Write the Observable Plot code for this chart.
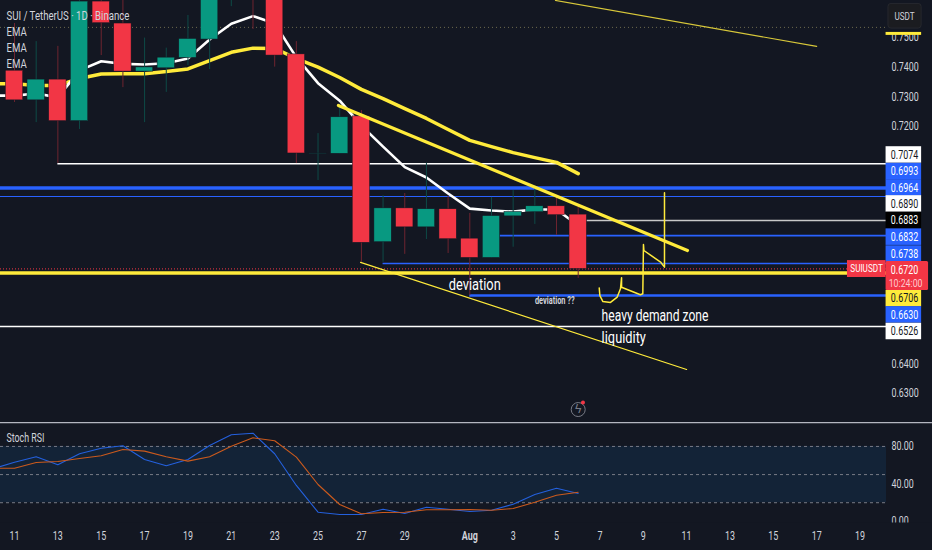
<!DOCTYPE html>
<html>
<head>
<meta charset="utf-8">
<script src="https://cdn.jsdelivr.net/npm/d3@7"></script>
<script src="https://cdn.jsdelivr.net/npm/@observablehq/plot@0.6"></script>
<style>
html,body{margin:0;padding:0;background:#131722;overflow:hidden}
#chart svg{display:block}
</style>
</head>
<body>
<div id="chart"></div>
<script>
const FONT = '"Roboto","Liberation Sans",sans-serif';
const GREEN = "#089981", RED = "#f23645", BLUE = "#2962ff", YELLOW = "#ffeb3b", WHITE = "#ffffff", TXT = "#d1d4dc", BG = "#131722";

// Candles: day 0 = 11 Jul
const opens  = [.7388,.7288,.7358,.7218,.7621,.7547,.7385,.7396,.7431,.7493,.7660,.7800,.7720,.7443,.7108,.7108,.7234,.6810,.6924,.6860,.6921,.6822,.6757,.6897,.6911,.6931,.6903];
const highs  = [.7547,.7486,.7470,.7640,.7670,.7640,.7498,.7464,.7574,.7750,.7800,.7850,.7750,.7486,.7176,.7271,.7254,.6967,.6974,.7076,.6964,.6907,.6961,.6984,.7001,.6961,.6927];
const lows   = [.7281,.7213,.7075,.7190,.7439,.7331,.7213,.7315,.7405,.7392,.7604,.7527,.7400,.7075,.7018,.7108,.6742,.6742,.6769,.6819,.6772,.6630,.6757,.6793,.6870,.6833,.6688];
const closes = [.7288,.7358,.7218,.7621,.7548,.7385,.7399,.7432,.7495,.7700,.7750,.7680,.7439,.7109,.7109,.7231,.6808,.6924,.6860,.6921,.6820,.6757,.6898,.6912,.6931,.6901,.6720];

// EMAs, from day -1 to day 26
const emaFast = [.7304,.7304,.7311,.7298,.7389,.7420,.7411,.7409,.7413,.7429,.7493,.7546,.7572,.7547,.7433,.7346,.7287,.7203,.7132,.7063,.7028,.6974,.6923,.6917,.6913,.6920,.6920,.6866];
const emaSlow = [.7344,.7344,.7338,.7338,.7362,.7377,.7378,.7378,.7385,.7394,.7422,.7450,.7464,.7463,.7429,.7400,.7365,.7325,.7294,.7260,.7227,.7190,.7153,.7132,.7112,.7095,.7079,.7041];

// Stoch RSI, from day -1 to day 26
const stochK = [56.2,63.2,69.0,60.4,72.2,78.1,80.7,66.1,59.4,66.1,81.0,92.4,94.1,72.2,38.4,9.9,7.5,7.5,13.1,8.5,15.2,13.1,10.7,12.0,18.4,28.8,35.5,29.9];
const stochD = [56.8,56.8,62.9,64.0,67.2,70.0,76.8,75.0,69.0,64.3,69.0,80.3,89.2,86.0,68.6,39.4,18.1,8.2,9.6,9.9,12.5,12.5,12.8,12.0,13.9,20.6,28.0,31.2];

// Horizontal levels
const levelPrice = [.7074,.6993,.6964,.6883,.6832,.6738,.6706,.6630,.6526];
const levelStart = [2,-0.65,-0.65,26.4,22.4,17,-0.65,21,-0.65];
const levelColor = [WHITE,BLUE,BLUE,"#c8c8c8",BLUE,BLUE,YELLOW,BLUE,WHITE];
const levelWeight = [1.5,3.5,1.2,1.5,1.6,1.5,3.5,2.5,1.5];

// Drawn trend lines: day, price pairs
const thickTrendDays = [14.94,31.04], thickTrendPrices = [.7271,.6782];
const upperTrendDays = [24.95,37.0], upperTrendPrices = [.7625,.7470];
const lowerTrendDays = [15.96,31.0], lowerTrendPrices = [.6742,.6381];
const doodleDays = [26.97,27.0,27.14,27.49,27.80,27.95,28.0,28.0,28.87,28.98,29.01,29.03,29.80,29.98,29.98];
const doodlePrices = [.6656,.6630,.6610,.6607,.6625,.6653,.6690,.6658,.6633,.6636,.6802,.6782,.6743,.6726,.6977];

// Axis tags on the price scale
const tagText  = ["0.7074","0.6993","0.6964","0.6890","0.6883","0.6832","0.6738","0.6706","0.6630","0.6526"];
const tagSlot  = [.7104,.7048,.6993,.6939,.6883,.6827,.6770,.6620,.6565,.6509];
const tagFill  = [WHITE,BLUE,BLUE,WHITE,"#000000",BLUE,BLUE,YELLOW,BLUE,WHITE];
const tagInk   = ["#131722",WHITE,WHITE,"#131722",WHITE,WHITE,WHITE,"#131722",WHITE,"#131722"];
const priceTicks = [.75,.74,.73,.72,.64,.63];

// Time axis
const dayTicks = [0,2,4,6,8,10,12,14,16,18,23,25,27,29,31,33,35,37,39];
const dayTickLabels = ["11","13","15","17","19","21","23","25","27","29","3","5","7","9","11","13","15","17","19"];
const monthTicks = [21];
const stochTicks = [80,40,0];

const xDomain = [-0.646, 40.22];
const tagX1 = 40.2, tagX2 = 41.84, tagMid = 41.05;
const BW = 0.4;
const days = d3.range(opens.length);
const color = i => closes[i] >= opens[i] ? GREEN : RED;
const wickColor = i => closes[i] >= opens[i] ? "#0e4a47" : "#6e2430";
const lineDays = d3.range(-1, 27);
const pairs = (xs, ys) => xs.map((x, i) => ({x, y: ys[i]}));
const pick = (arr) => (d) => arr[d];
const tagHalf = 0.00278;

const pricePane = Plot.plot({
  width: 932, height: 422, marginLeft: 0, marginTop: 0, marginBottom: 0, marginRight: 46,
  style: {background: "transparent", fontFamily: FONT, fontSize: "12px", color: TXT},
  x: {domain: xDomain, axis: null},
  y: {domain: [.62023, .76246], axis: null},
  marks: [
    Plot.axisY(priceTicks, {anchor: "right", tickSize: 0, tickPadding: 5, label: null, fill: TXT, fontSize: 12, tickFormat: d3.format(".4f")}),
    Plot.ruleY([.7534], {x1: xDomain[0], x2: xDomain[1], stroke: "#6e6a4e", strokeWidth: 1, strokeDasharray: "1 3"}),
    Plot.ruleY(levelPrice, {x1: (d, i) => levelStart[i], x2: xDomain[1], y: d => d, stroke: (d, i) => levelColor[i], strokeWidth: (d, i) => levelWeight[i]}),
    Plot.ruleY([.6720], {x1: xDomain[0], x2: xDomain[1], stroke: RED, strokeWidth: 1, strokeDasharray: "1 2"}),
    Plot.line(pairs(lineDays, emaSlow), {x: "x", y: "y", stroke: YELLOW, strokeWidth: 3.5, clip: true}),
    Plot.line(pairs(lineDays, emaFast), {x: "x", y: "y", stroke: WHITE, strokeWidth: 2.6, clip: true}),
    Plot.ruleX(days, {x: d => d, y1: pick(lows), y2: pick(highs), stroke: wickColor, strokeWidth: 1, clip: true}),
    Plot.rect(days, {x1: d => d - BW, x2: d => d + BW, y1: pick(opens), y2: pick(closes), fill: color, stroke: "#131722", strokeWidth: 0.5, clip: true}),
    Plot.line(pairs(thickTrendDays, thickTrendPrices), {x: "x", y: "y", stroke: YELLOW, strokeWidth: 3.2}),
    Plot.line(pairs(upperTrendDays, upperTrendPrices), {x: "x", y: "y", stroke: "#d8c83a", strokeWidth: 1.1, clip: true}),
    Plot.line(pairs(lowerTrendDays, lowerTrendPrices), {x: "x", y: "y", stroke: YELLOW, strokeWidth: 1.2}),
    Plot.line(pairs(doodleDays, doodlePrices), {x: "x", y: "y", stroke: YELLOW, strokeWidth: 1.5, curve: "linear"}),
    Plot.text(["deviation"], {x: 21.23, y: .6665, fill: WHITE, fontSize: 16, fontWeight: 400}),
    Plot.text(["deviation ??"], {x: 24.92, y: .6614, fill: TXT, fontSize: 10, fontWeight: 700}),
    Plot.text(["heavy demand zone"], {x: 27.08, y: .6563, fill: WHITE, fontSize: 16, textAnchor: "start"}),
    Plot.text(["liquidity"], {x: 27.08, y: .6489, fill: WHITE, fontSize: 16, textAnchor: "start"}),
    Plot.text(["SUI / TetherUS · 1D · Binance"], {frameAnchor: "top-left", dx: 6, dy: 10, fill: TXT, fontSize: 13}),
    Plot.text(["EMA"], {frameAnchor: "top-left", dx: 6, dy: 26, fill: TXT, fontSize: 13}),
    Plot.text(["EMA"], {frameAnchor: "top-left", dx: 6, dy: 42, fill: TXT, fontSize: 13}),
    Plot.text(["EMA"], {frameAnchor: "top-left", dx: 6, dy: 58, fill: TXT, fontSize: 13}),
    // price scale tags
    Plot.rect([0], {x1: 40.31, x2: 41.84, y1: .7530, y2: .7613, fill: "#1b1c20", stroke: "#26282e", rx: 3}),
    Plot.text(["USDT"], {x: tagMid, y: .7571, fill: TXT, fontSize: 11}),
    Plot.rect([0], {x1: tagX1, x2: tagX2, y1: .7507, y2: .7517, fill: YELLOW}),
    Plot.rect(tagText, {x1: tagX1, x2: tagX2, y1: (d, i) => tagSlot[i] - tagHalf, y2: (d, i) => tagSlot[i] + tagHalf, fill: (d, i) => tagFill[i]}),
    Plot.text(tagText, {x: tagMid, y: (d, i) => tagSlot[i], text: d => d, fill: (d, i) => tagInk[i], fontSize: 12}),
    Plot.rect([0], {x1: tagX1, x2: 42.16, y1: .6647, y2: .6745, fill: RED, rx: 1.5}),
    Plot.text(["0.6720"], {x: tagMid, y: .6715, fill: WHITE, fontSize: 12}),
    Plot.text(["10:24:00"], {x: tagMid + 0.05, y: .6671, fill: "#ffc9ce", fontSize: 11}),
    Plot.rect([0], {x1: 38.42, x2: tagX1, y1: .6691, y2: .6748, fill: RED}),
    Plot.text(["SUIUSDT"], {x: 39.3, y: .6720, fill: WHITE, fontSize: 11}),
    // snapshot badge
    Plot.dot([0], {x: 26.0, y: .6246, r: 7, stroke: "#787b86", strokeWidth: 1}),
    Plot.text(["ϟ"], {x: 26.0, y: .6246, fill: "#787b86", fontSize: 12}),
    Plot.dot([0], {x: 26.22, y: .6270, r: 2, fill: RED})
  ]
});

const stochPane = Plot.plot({
  width: 932, height: 128, marginLeft: 0, marginTop: 0, marginBottom: 28, marginRight: 46,
  style: {background: "transparent", fontFamily: FONT, fontSize: "12px", color: TXT},
  x: {domain: xDomain, axis: null},
  y: {domain: [-1.07, 105.5], axis: null},
  marks: [
    Plot.rect([0], {x1: xDomain[0], x2: xDomain[1], y1: 20, y2: 80, fill: "#132337"}),
    Plot.ruleY([80, 50, 20], {x1: xDomain[0], x2: xDomain[1], stroke: "#787b86", strokeWidth: 1, strokeDasharray: "3 3"}),
    Plot.axisY(stochTicks, {anchor: "right", tickSize: 0, tickPadding: 5, label: null, fill: TXT, fontSize: 12, tickFormat: d3.format(".2f")}),
    Plot.rect([0], {x1: xDomain[0], x2: 42.34, y1: -1.6, y2: -31, fill: BG}),
    Plot.line(pairs(lineDays, stochK), {x: "x", y: "y", stroke: "#2460dd", strokeWidth: 1.1, clip: true}),
    Plot.line(pairs(lineDays, stochD), {x: "x", y: "y", stroke: "#cb5a1d", strokeWidth: 1.1, clip: true}),
    Plot.ruleY([105.5], {x1: xDomain[0], x2: 42.34, stroke: "#b4b6c0", strokeWidth: 1.5}),
    Plot.text(["Stoch RSI"], {frameAnchor: "top-left", dx: 6, dy: 10, fill: TXT, fontSize: 13}),
    Plot.axisX(dayTicks, {anchor: "bottom", tickSize: 0, tickPadding: 9, label: null, fill: TXT, fontSize: 12,
      tickFormat: d => dayTickLabels[dayTicks.indexOf(d)]}),
    Plot.axisX(monthTicks, {anchor: "bottom", tickSize: 0, tickPadding: 9, label: null, fill: TXT, fontSize: 12, fontWeight: 700,
      tickFormat: () => "Aug"})
  ]
});

const host = document.getElementById("chart");
host.appendChild(pricePane);
host.appendChild(stochPane);

// The reference's lettering is horizontally condensed: keep real text, narrow its glyphs.
const squeeze = {"deviation": .8, "heavy demand zone": .755, "liquidity": .8, "deviation ??": .74, "Stoch RSI": .68, "10:24:00": .8};
host.querySelectorAll("text").forEach(t => {
  const s = t.textContent.trim();
  if (s === "ϟ") return;
  const ratio = squeeze[s] ?? .74;
  const w = t.getComputedTextLength();
  t.setAttribute("textLength", (w * ratio).toFixed(1));
  t.setAttribute("lengthAdjust", "spacingAndGlyphs");
});
</script>
</body>
</html>
